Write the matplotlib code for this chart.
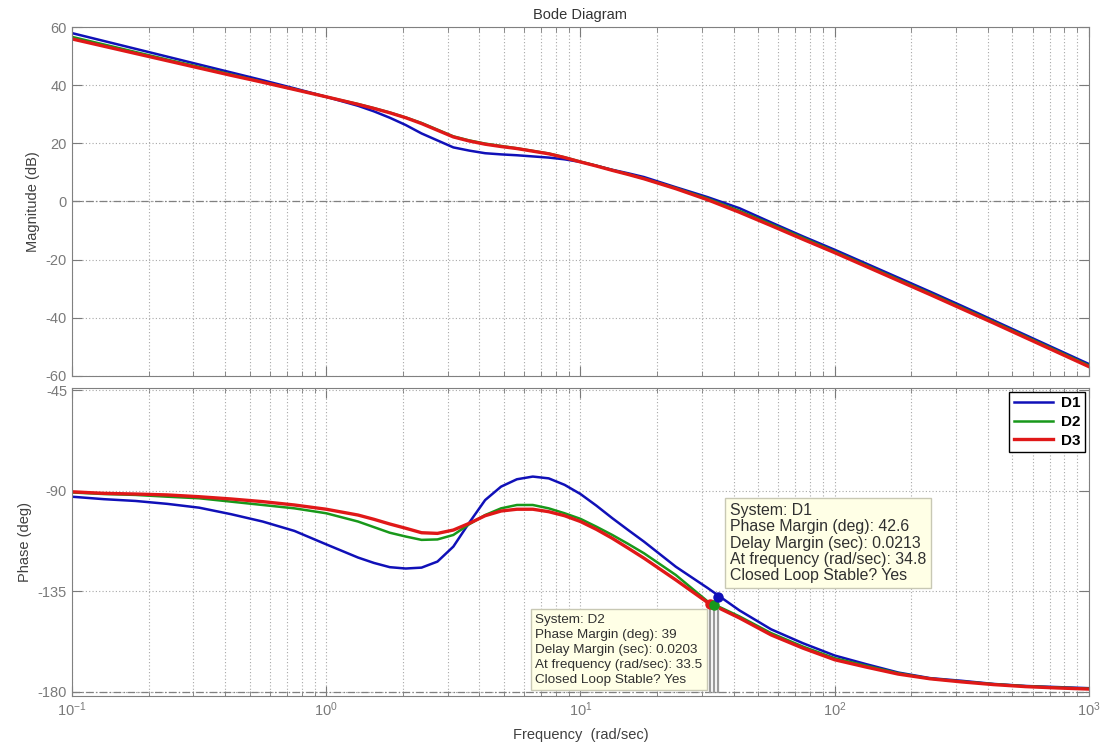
import matplotlib
matplotlib.use("Agg")
import matplotlib.pyplot as plt

plt.rcParams["font.family"] = ["Liberation Sans", "DejaVu Sans"]
plt.rcParams["mathtext.default"] = "regular"
plt.rcParams["axes.unicode_minus"] = False

# open-loop frequency responses of the three designs
freq = [0.1, 0.1334, 0.1778, 0.2371, 0.3162, 0.4217, 0.5623, 0.7499, 1.0, 1.334,
        1.540, 1.778, 2.054, 2.371, 2.738, 3.162, 3.652, 4.217, 4.870, 5.623,
        6.494, 7.499, 8.660, 10.0, 11.55, 13.34, 15.40, 17.78,
        23.71, 31.62, 42.17, 56.23, 74.99, 100.0, 133.4, 177.8, 237.1, 316.2,
        421.7, 562.3, 749.9, 1000.0]

mag_d1 = [57.9, 55.2, 52.5, 49.8, 47.1, 44.4, 41.7, 38.9, 36.0, 32.9,
          31.0, 28.8, 26.3, 23.4, 21.0, 18.6, 17.5, 16.6, 16.2, 15.9,
          15.5, 15.1, 14.5, 13.6, 12.3, 10.9, 9.7, 8.4,
          4.9, 1.5, -2.3, -7.2, -12.0, -16.6, -21.4, -26.2, -31.0, -35.9,
          -40.9, -45.9, -50.9, -55.9]
mag_d2 = [56.6, 54.0, 51.4, 48.8, 46.3, 43.7, 41.1, 38.6, 36.0, 33.5,
          32.1, 30.6, 28.9, 27.0, 24.7, 22.4, 21.0, 19.9, 19.1, 18.3,
          17.4, 16.5, 15.2, 13.7, 12.3, 10.8, 9.4, 7.9,
          4.6, 1.0, -3.2, -7.8, -12.5, -17.2, -22.0, -26.8, -31.6, -36.5,
          -41.4, -46.4, -51.4, -56.4]
mag_d3 = [55.9, 53.4, 50.9, 48.4, 45.9, 43.4, 41.0, 38.5, 36.0, 33.4,
          32.0, 30.5, 28.8, 26.8, 24.5, 22.2, 20.8, 19.7, 18.9, 18.2,
          17.3, 16.4, 15.1, 13.6, 12.2, 10.7, 9.3, 7.8,
          4.4, 0.6, -3.7, -8.3, -13.0, -17.6, -22.4, -27.2, -32.0, -36.9,
          -41.8, -46.8, -51.8, -56.8]

phase_d1 = [-92.7, -93.8, -94.6, -95.9, -97.6, -100.5, -103.8, -108.0, -114.0, -119.9,
            -122.3, -124.2, -124.8, -124.4, -121.7, -115.0, -104.3, -94.2, -88.2, -84.9,
            -83.7, -84.5, -87.4, -91.5, -96.7, -102.3, -107.6, -112.8,
            -124.0, -133.5, -143.5, -152.0, -158.2, -163.7, -167.6, -171.3, -173.8, -175.0,
            -176.4, -177.3, -177.8, -178.3]
phase_d2 = [-90.8, -91.5, -91.9, -92.7, -93.4, -94.9, -96.4, -97.9, -100.1, -103.8,
            -106.3, -108.8, -110.5, -112.0, -111.8, -109.8, -105.0, -100.9, -97.9, -96.4,
            -96.4, -97.9, -100.1, -102.6, -106.1, -109.8, -113.8, -118.0,
            -127.7, -139.5, -146.2, -153.7, -159.7, -164.9, -168.3, -171.6, -174.0, -175.3,
            -176.5, -177.4, -178.0, -178.5]
phase_d3 = [-90.5, -91.2, -91.5, -91.9, -92.7, -93.7, -94.9, -96.4, -98.3, -100.9,
            -102.8, -104.9, -106.8, -108.8, -109.1, -107.6, -104.6, -101.2, -99.1, -98.3,
            -98.3, -99.4, -101.2, -103.8, -107.3, -111.3, -115.7, -120.2,
            -129.9, -140.0, -146.9, -154.5, -160.4, -165.6, -168.9, -172.0, -174.1, -175.5,
            -176.7, -177.6, -178.2, -178.7]

systems = ["D1", "D2", "D3"]
colors = ["#1010b8", "#18981a", "#e01818"]
widths = [1.8, 1.8, 2.4]

# stability margins (crossover frequency, phase margin, delay margin)
pm_freq = [34.8, 33.5, 32.4]
pm_deg = [42.6, 39.0, 39.4]
delay_margin = [0.0213, 0.0203, 0.0211]

grid_kw = dict(color="#a8a8a8", linestyle=(0, (1, 2)), linewidth=0.8)
ref_kw = dict(color="#808080", linestyle=(0, (6, 2, 1, 2)), linewidth=0.9)


def style(ax):
    ax.set_xscale("log")
    ax.set_xlim(0.1, 1000)
    ax.grid(True, which="major", axis="both", **grid_kw)
    ax.grid(True, which="minor", axis="x", **grid_kw)
    ax.tick_params(which="both", direction="in", top=True, right=True,
                   colors="#7a7a7a", labelsize=10.5)
    ax.tick_params(which="major", length=7)
    ax.tick_params(which="minor", length=3.5)
    for s in ax.spines.values():
        s.set_color("#808080")
    ax.set_axisbelow(True)


fig = plt.figure(figsize=(11.04, 7.46), dpi=100)
ax1 = fig.add_axes([0.0652, 0.4960, 0.9212, 0.4678])
ax2 = fig.add_axes([0.0652, 0.0670, 0.9212, 0.4129])

# magnitude
style(ax1)
ax1.set_ylim(-60, 60)
ax1.set_yticks([-60, -40, -20, 0, 20, 40, 60])
ax1.tick_params(labelbottom=False)
ax1.axhline(0, **ref_kw)
for m, c, w in zip([mag_d1, mag_d2, mag_d3], colors, widths):
    ax1.plot(freq, m, color=c, linewidth=w)
ax1.set_title("Bode Diagram", fontsize=10.5, color="#333333", pad=6)
ax1.set_ylabel("Magnitude (dB)", fontsize=10.5, color="#404040")

# phase
style(ax2)
ax2.set_ylim(-181.8, -44.1)
ax2.set_yticks([-180, -135, -90, -45])
ax2.axhline(-180, **ref_kw)
for p, c, w, name in zip([phase_d1, phase_d2, phase_d3], colors, widths, systems):
    ax2.plot(freq, p, color=c, linewidth=w, label=name)

# phase margin stems and markers
for f, pm in zip(pm_freq, pm_deg):
    ax2.plot([f, f], [-180, -180 + pm], color="#9a9a9a", linewidth=1.6, zorder=3)
for i in [2, 1, 0]:
    ax2.plot(pm_freq[i], -180 + pm_deg[i], "o", color=colors[i], markersize=6.5, zorder=4)

ax2.set_ylabel("Phase (deg)", fontsize=10.5, color="#404040")
ax2.set_xlabel("Frequency  (rad/sec)", fontsize=10.5, color="#404040", labelpad=6)

leg = ax2.legend(loc="upper right", prop={"weight": "bold", "size": 11}, fancybox=False,
                 edgecolor="black", framealpha=1, borderaxespad=0.25, handlelength=2.6,
                 labelspacing=0.3, borderpad=0.3, handletextpad=0.5)
leg.get_frame().set_linewidth(1.0)


def tip_text(i):
    return ("System: %s\nPhase Margin (deg): %g\nDelay Margin (sec): %g\n"
            "At frequency (rad/sec): %g\nClosed Loop Stable? Yes"
            % (systems[i], pm_deg[i], delay_margin[i], pm_freq[i]))


box_kw = dict(boxstyle="square,pad=0.32", facecolor="#ffffe6", edgecolor="#c8c8b4", linewidth=1)
ax2.text(38.6, -95.6, tip_text(0), fontsize=11.4, color="#303030", va="top", ha="left",
         linespacing=1.1, bbox=box_kw, zorder=5)
ax2.text(6.65, -145.0, tip_text(1), fontsize=9.7, color="#303030", va="top", ha="left",
         linespacing=1.33, bbox=box_kw, zorder=5)

fig.savefig("out.png", dpi=100)
